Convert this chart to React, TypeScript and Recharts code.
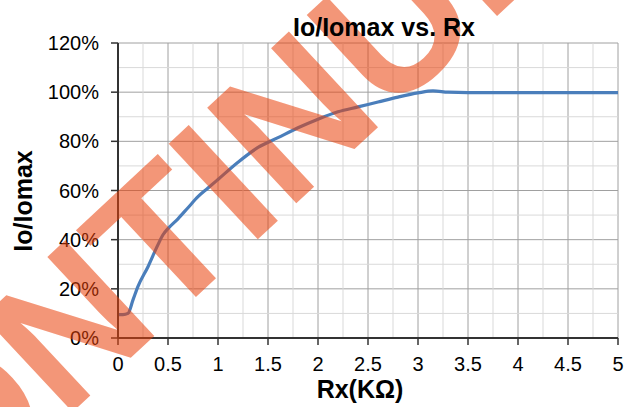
import { LineChart, Line, XAxis, YAxis, CartesianGrid, ReferenceLine } from "recharts";

// Rx in kOhm, Io/Iomax as a fraction
const rxValues = [0, 0.05, 0.1, 0.15, 0.2, 0.3, 0.4, 0.45, 0.5, 0.6, 0.7, 0.8, 0.9, 1.0, 1.2, 1.4, 1.6, 1.8, 2.0, 2.2, 2.4, 2.6, 2.8, 3.0, 3.15, 3.3, 3.5, 4, 4.5, 5];
const ratioValues = [0.095, 0.095, 0.1, 0.155, 0.21, 0.29, 0.38, 0.42, 0.445, 0.485, 0.53, 0.575, 0.61, 0.645, 0.715, 0.775, 0.815, 0.855, 0.89, 0.92, 0.94, 0.96, 0.98, 0.997, 1.005, 1.0, 0.998, 0.998, 0.998, 0.998];

const xTicks = [0, 0.5, 1, 1.5, 2, 2.5, 3, 3.5, 4, 4.5, 5];
const yTicks = [0, 0.2, 0.4, 0.6, 0.8, 1, 1.2];
const xMinor = [0.25, 0.75, 1.25, 1.75, 2.25, 2.75, 3.25, 3.75, 4.25, 4.75];
const yMinor = [0.1, 0.3, 0.5, 0.7, 0.9, 1.1];

const data = rxValues.map((rx, i) => ({ rx, ratio: ratioValues[i] }));

const FONT = '"Liberation Sans", Arial, sans-serif';
const AXIS = "#333333";

export default function App() {
  return (
    <div style={{ position: "absolute", left: 0, top: 0, width: 627, height: 407, background: "#fff", fontFamily: FONT }}>
      <LineChart width={627} height={407} data={data} margin={{ top: 43, right: 9, bottom: 0, left: 0 }}>
        {xMinor.map((v) => (
          <ReferenceLine key={"x" + v} x={v} stroke="#d9d9d9" strokeWidth={1} />
        ))}
        {yMinor.map((v) => (
          <ReferenceLine key={"y" + v} y={v} stroke="#d9d9d9" strokeWidth={1} />
        ))}
        <CartesianGrid stroke="#a0a0a0" strokeWidth={1} />
        <XAxis
          type="number"
          dataKey="rx"
          domain={[0, 5]}
          ticks={xTicks}
          interval={0}
          height={69}
          tickSize={7}
          tickMargin={12}
          tick={{ fill: "#000", fontSize: 20, fontFamily: FONT }}
          axisLine={{ stroke: AXIS, strokeWidth: 2 }}
          tickLine={{ stroke: AXIS, strokeWidth: 1.5 }}
        />
        <YAxis
          type="number"
          domain={[0, 1.2]}
          ticks={yTicks}
          interval={0}
          width={118}
          tickSize={7}
          tickMargin={12}
          tickFormatter={(v: number) => `${Math.round(v * 100)}%`}
          tick={{ fill: "#000", fontSize: 20, fontFamily: FONT }}
          axisLine={{ stroke: AXIS, strokeWidth: 2 }}
          tickLine={{ stroke: AXIS, strokeWidth: 1.5 }}
        />
        <Line type="monotone" dataKey="ratio" stroke="#4a7ebb" strokeWidth={3.2} dot={false} isAnimationActive={false} />
      </LineChart>
      <svg width={627} height={407} style={{ position: "absolute", left: 0, top: 0, pointerEvents: "none" }}>
        <text
          transform="translate(152,338) rotate(-43)"
          textAnchor="middle"
          fontSize={190}
          fontWeight="bold"
          fontFamily={FONT}
          fill="rgb(233,64,10)"
          fillOpacity={0.55}
        >
          DISCONTINUED
        </text>
        <text x={384} y={36} textAnchor="middle" fontSize={25} fontWeight="bold" fontFamily={FONT} fill="#000">
          Io/Iomax vs. Rx
        </text>
        <text x={360} y={398} textAnchor="middle" fontSize={25} fontWeight="bold" fontFamily={FONT} fill="#000">
          Rx(KΩ)
        </text>
        <text transform="translate(32,201) rotate(-90)" textAnchor="middle" fontSize={25} fontWeight="bold" fontFamily={FONT} fill="#000">
          Io/Iomax
        </text>
      </svg>
    </div>
  );
}
